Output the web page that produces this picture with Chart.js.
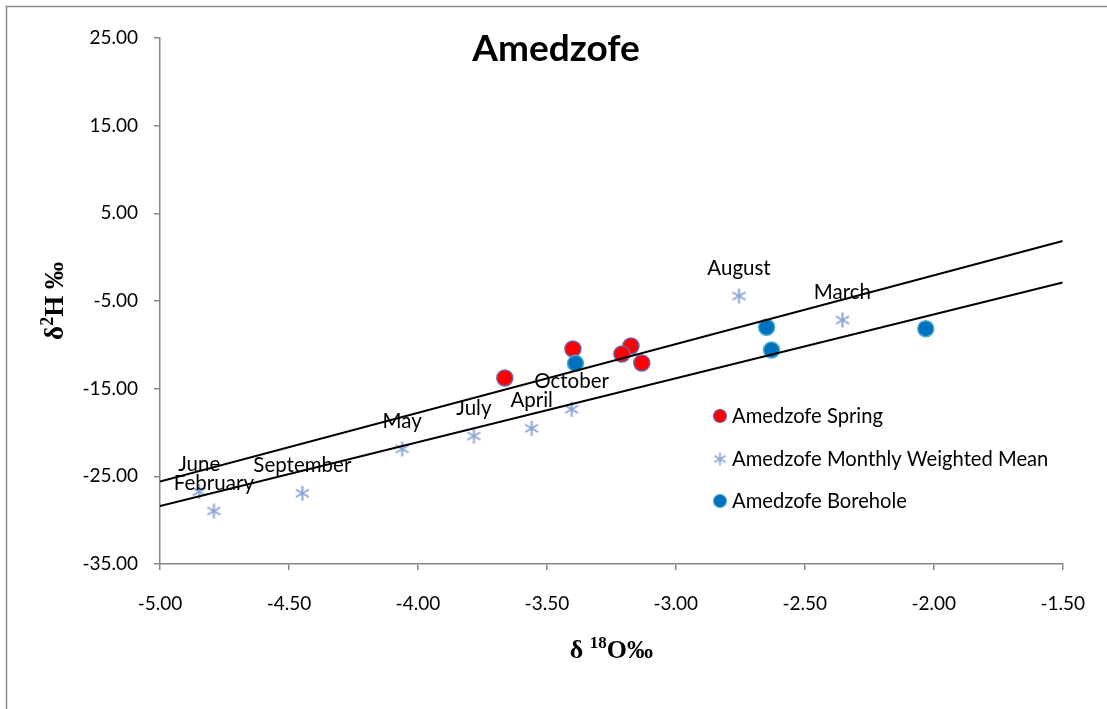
<!DOCTYPE html>
<html>
<head>
<meta charset="utf-8">
<script src="https://cdn.jsdelivr.net/npm/chart.js@4"></script>
<style>
  html, body { margin: 0; padding: 0; background: #fff; }
  #wrap { width: 1107px; height: 709px; position: relative; }
</style>
</head>
<body>
<div id="wrap"><canvas id="c" width="1107" height="709"></canvas></div>
<script>
// Amedzofe isotope samples: δ18O (x) vs δ2H (y), per mil
const chartTitle = 'Amedzofe';

const springX = [-3.663, -3.399, -3.174, -3.209, -3.132];
const springY = [-13.78, -10.47, -10.13, -11.04, -12.07];

const monthNames = ['June', 'February', 'September', 'May', 'July', 'April', 'October', 'August', 'March'];
const monthX = [-4.848, -4.791, -4.448, -4.061, -3.783, -3.559, -3.404, -2.755, -2.354];
const monthY = [-26.75, -28.95, -26.93, -21.88, -20.40, -19.52, -17.35, -4.43, -7.17];

const boreX = [-3.389, -2.648, -2.629, -2.031];
const boreY = [-12.11, -8.00, -10.59, -8.16];

// reference lines (end points over the plotted δ18O range)
const lineX = [-5.0, -1.5];
const upperLineY = [-25.6, 1.85];
const lowerLineY = [-28.4, -2.9];

const seriesNames = ['Amedzofe Spring', 'Amedzofe Monthly Weighted Mean', 'Amedzofe Borehole'];

const xTicks = [-5.0, -4.5, -4.0, -3.5, -3.0, -2.5, -2.0, -1.5];
const yTicks = [25, 15, 5, -5, -15, -25, -35];

const FONT = 'Lato, "Liberation Sans", sans-serif';
const SERIF = '"Liberation Serif", "DejaVu Serif", serif';

const pts = (xs, ys) => xs.map((x, i) => ({ x, y: ys[i] }));

// six-armed asterisk marker
function asteriskMarker(size, color, lw) {
  const c = document.createElement('canvas');
  c.width = size; c.height = size;
  const g = c.getContext('2d');
  const r = size / 2 - 1, m = size / 2;
  g.strokeStyle = color; g.lineWidth = lw;
  g.beginPath();
  for (let k = 0; k < 3; k++) {
    const a = Math.PI / 2 + k * Math.PI / 3;
    g.moveTo(m + r * Math.cos(a), m + r * Math.sin(a));
    g.lineTo(m - r * Math.cos(a), m - r * Math.sin(a));
  }
  g.stroke();
  return c;
}
const starColor = '#8aa6d8';
const star = asteriskMarker(17, starColor, 2);
const starSmall = asteriskMarker(15, starColor, 1.8);

const springStyle = { bg: '#ff0000', border: '#7060a8' };
const boreStyle = { bg: '#0070c0', border: '#4bacc6' };

const framePlugin = {
  id: 'frame',
  beforeDraw(chart) {
    const ctx = chart.ctx;
    ctx.save();
    ctx.fillStyle = '#fff';
    ctx.fillRect(0, 0, chart.width, chart.height);
    ctx.strokeStyle = '#8c8c8c';
    ctx.lineWidth = 1.5;
    ctx.strokeRect(6.5, 6.5, chart.width + 20, chart.height + 20);
    ctx.restore();
  }
};

const annotatePlugin = {
  id: 'annotate',
  afterDatasetsDraw(chart) {
    const ctx = chart.ctx;
    const xs = chart.scales.x, ys = chart.scales.y;
    const area = chart.chartArea;
    ctx.save();

    // month labels above their points
    ctx.fillStyle = '#000';
    ctx.font = '20.5px ' + FONT;
    ctx.textAlign = 'center';
    ctx.textBaseline = 'alphabetic';
    monthNames.forEach((name, i) => {
      ctx.fillText(name, xs.getPixelForValue(monthX[i]), ys.getPixelForValue(monthY[i]) - 21);
    });

    // chart title
    ctx.font = 'bold 37px ' + FONT;
    ctx.fillText(chartTitle, 556, 61);

    // legend
    const lx = 720, rows = [416, 459, 501];
    ctx.textAlign = 'left';
    ctx.font = '20.2px ' + FONT;
    rows.forEach((ry, i) => {
      if (i === 1) {
        ctx.drawImage(starSmall, lx - 7.5, ry - 7.5);
      } else {
        const s = i === 0 ? springStyle : boreStyle;
        ctx.beginPath();
        ctx.arc(lx, ry, 6.5, 0, Math.PI * 2);
        ctx.fillStyle = s.bg; ctx.fill();
        ctx.lineWidth = 1.2; ctx.strokeStyle = s.border; ctx.stroke();
      }
      ctx.fillStyle = '#000';
      ctx.fillText(seriesNames[i], 732, ry + 7);
    });

    // x axis title: δ 18O‰
    const cx = (area.left + area.right) / 2, by = 658;
    let big = 'bold 26px ' + SERIF, sup = 'bold 17px ' + SERIF;
    ctx.font = big; const w1 = ctx.measureText('δ ').width, w3 = ctx.measureText('O‰').width;
    ctx.font = sup; const w2 = ctx.measureText('18').width;
    let x0 = cx - (w1 + w2 + w3) / 2;
    ctx.font = big; ctx.fillText('δ ', x0, by);
    ctx.font = sup; ctx.fillText('18', x0 + w1, by - 10);
    ctx.font = big; ctx.fillText('O‰', x0 + w1 + w2, by);

    // y axis title: δ2H ‰ (rotated)
    big = 'bold 27px ' + SERIF; sup = 'bold 18px ' + SERIF;
    ctx.translate(63, (area.top + area.bottom) / 2);
    ctx.rotate(-Math.PI / 2);
    ctx.font = big; const v1 = ctx.measureText('δ').width, v3 = ctx.measureText('H ‰').width;
    ctx.font = sup; const v2 = ctx.measureText('2').width;
    x0 = -(v1 + v2 + v3) / 2;
    ctx.font = big; ctx.fillText('δ', x0, 0);
    ctx.font = sup; ctx.fillText('2', x0 + v1, -10);
    ctx.font = big; ctx.fillText('H ‰', x0 + v1 + v2, 0);
    ctx.restore();
  }
};

new Chart(document.getElementById('c'), {
  type: 'scatter',
  data: {
    datasets: [
      {
        label: 'upper line', type: 'line', data: pts(lineX, upperLineY),
        borderColor: '#000', borderWidth: 2, pointRadius: 0, fill: false, order: 0
      },
      {
        label: 'lower line', type: 'line', data: pts(lineX, lowerLineY),
        borderColor: '#000', borderWidth: 2, pointRadius: 0, fill: false, order: 0
      },
      {
        label: seriesNames[2], data: pts(boreX, boreY),
        backgroundColor: boreStyle.bg, borderColor: boreStyle.border, borderWidth: 1.5,
        pointRadius: 8, order: 1
      },
      {
        label: seriesNames[1], data: pts(monthX, monthY),
        pointStyle: star, pointRadius: 8, order: 2
      },
      {
        label: seriesNames[0], data: pts(springX, springY),
        backgroundColor: springStyle.bg, borderColor: springStyle.border, borderWidth: 1.5,
        pointRadius: 8, order: 3
      }
    ]
  },
  options: {
    responsive: false,
    animation: false,
    layout: { padding: { left: 0, top: 38, right: 44, bottom: 0 } },
    plugins: { legend: { display: false }, tooltip: { enabled: false }, title: { display: false } },
    scales: {
      x: {
        type: 'linear', min: -5, max: -1.5,
        afterBuildTicks: s => { s.ticks = xTicks.map(v => ({ value: v })); },
        afterFit: s => { s.height = 145; },
        grid: { drawOnChartArea: false, drawTicks: true, tickLength: 6, color: '#868686', lineWidth: 1.5 },
        border: { color: '#868686', width: 1.5 },
        ticks: {
          color: '#000', font: { family: FONT, size: 19 }, padding: 22,
          callback: v => v.toFixed(2)
        }
      },
      y: {
        type: 'linear', min: -35, max: 25,
        afterBuildTicks: s => { s.ticks = yTicks.map(v => ({ value: v })); },
        afterFit: s => { s.width = 160; },
        grid: { drawOnChartArea: false, drawTicks: true, tickLength: 6, color: '#868686', lineWidth: 1.5 },
        border: { color: '#868686', width: 1.5 },
        ticks: {
          color: '#000', font: { family: FONT, size: 19 }, padding: 16,
          callback: v => v.toFixed(2)
        }
      }
    }
  },
  plugins: [framePlugin, annotatePlugin]
});
</script>
</body>
</html>
